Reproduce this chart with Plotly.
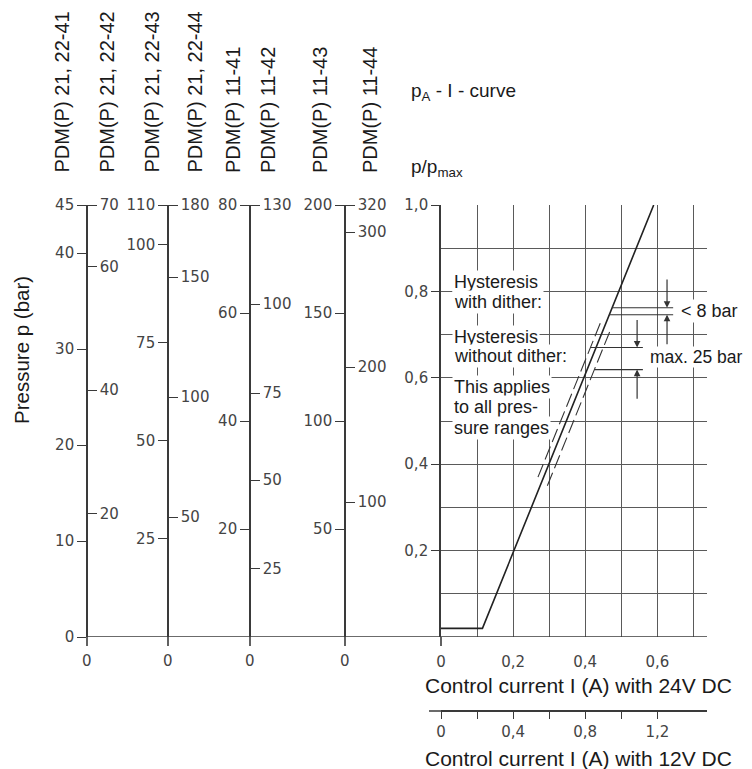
import numpy as np
import plotly.graph_objects as go

# ---------------- data ----------------
scale_names = ["PDM(P) 21, 22-41", "PDM(P) 21, 22-42", "PDM(P) 21, 22-43", "PDM(P) 21, 22-44",
               "PDM(P) 11-41", "PDM(P) 11-42", "PDM(P) 11-43", "PDM(P) 11-44"]
scale_max = [45, 70, 110, 180, 80, 130, 200, 320]
scale_tickvals = [[0, 10, 20, 30, 40, 45], [20, 40, 60, 70], [25, 50, 75, 100, 110], [50, 100, 150, 180],
                  [20, 40, 60, 80], [20.5, 47.2, 73.4, 100.2, 130], [50, 100, 150, 200], [100, 200, 300, 320]]
scale_ticktext = [["0", "10", "20", "30", "40", "45"], ["20", "40", "60", "70"], ["25", "50", "75", "100", "110"],
                  ["50", "100", "150", "180"], ["20", "40", "60", "80"], ["25", "50", "75", "100", "130"],
                  ["50", "100", "150", "200"], ["100", "200", "300", "320"]]

ratio_ticks = [0.2, 0.4, 0.6, 0.8, 1.0]
ratio_ticktext = ["0,2", "0,4", "0,6", "0,8", "1,0"]
ratio_minor = [0.1, 0.3, 0.5, 0.7, 0.9]
i24_ticks = [0, 0.2, 0.4, 0.6]
i24_ticktext = ["0", "0,2", "0,4", "0,6"]
i24_minor = [0.1, 0.3, 0.5, 0.7]
i12_ticks = [0, 0.2, 0.4, 0.6, 0.8, 1.0, 1.2]
i12_ticktext = ["0", "", "0,4", "", "0,8", "", "1,2"]

# p/pmax - I curve (24 V)
curve_current = [0.0, 0.115, 0.59]
curve_ratio = [0.02, 0.02, 1.0]
# hysteresis band (without dither), dashed
band_hi_current = [0.269, 0.446]
band_hi_ratio = [0.37, 0.735]
band_lo_current = [0.295, 0.472]
band_lo_ratio = [0.35, 0.715]
# hysteresis levels
dither_levels = [0.762, 0.746]
nodither_levels = [0.67, 0.619]
dither_end = 0.644
nodither_end = 0.56

# ---------------- geometry (layout) ----------------
OFF = 8                      # page body margin
FW, FH = 752 - OFF, 769 - OFF
L, R, T, B = 50, 707, 205, 711   # reference pixel frame of the plot area
def rx(p): return p - OFF
W, H = R - L, B - T
def px_x(p): return (p - L) / W
def px_y(p): return (B - p) / H
y_dom = [px_y(637), 1.0]
PX_PER_A = 360.5
axis_px = [87, 87, 168, 168, 250, 250, 345, 345]
label_px = [62, 107, 152, 195, 233, 268, 320, 370]

AX = "#3a3a3a"
GRID = "#5a5a5a"
TXT = "#1a1a1a"
TICKFONT = dict(family="DejaVu Sans", size=15, color="#444444")
BIGFONT = "Liberation Sans, Arial, sans-serif"

fig = go.Figure()

fig.add_trace(go.Scatter(x=curve_current, y=curve_ratio, mode="lines",
                         line=dict(color="#222222", width=1.6), showlegend=False, hoverinfo="skip"))
for xs, ys in [(band_hi_current, band_hi_ratio), (band_lo_current, band_lo_ratio)]:
    fig.add_trace(go.Scatter(x=xs, y=ys, mode="lines",
                             line=dict(color="#333333", width=1.1, dash="14px,5px"),
                             showlegend=False, hoverinfo="skip"))
for lv in dither_levels:
    x0 = float(np.interp(lv, curve_ratio, curve_current))
    fig.add_trace(go.Scatter(x=[x0, dither_end], y=[lv, lv], mode="lines",
                             line=dict(color="#333333", width=1.1), showlegend=False, hoverinfo="skip"))
x_hi = float(np.interp(nodither_levels[0], band_hi_ratio, band_hi_current))
x_lo = float(np.interp(nodither_levels[1], band_lo_ratio, band_lo_current))
for x0, lv in [(x_hi, nodither_levels[0]), (x_lo, nodither_levels[1])]:
    fig.add_trace(go.Scatter(x=[x0, nodither_end], y=[lv, lv], mode="lines",
                             line=dict(color="#333333", width=1.1), showlegend=False, hoverinfo="skip"))

for i in range(len(scale_max)):
    fig.add_trace(go.Scatter(x=[None], y=[None], yaxis=f"y{i+2}", showlegend=False, hoverinfo="skip"))
fig.add_trace(go.Scatter(x=[None], y=[None], xaxis="x2", showlegend=False, hoverinfo="skip"))

layout = dict(
    width=FW, height=FH,
    margin=dict(l=rx(L), r=752 - R, t=rx(T), b=769 - B),
    paper_bgcolor="white", plot_bgcolor="white",
    showlegend=False,
    xaxis=dict(domain=[px_x(441), 1], range=[0, (R - 441) / PX_PER_A], anchor="y",
               tickvals=i24_ticks, ticktext=i24_ticktext, ticks="outside", ticklen=11,
               tickcolor="rgba(0,0,0,0)", tickfont=TICKFONT,
               showgrid=True, gridcolor=GRID, gridwidth=1.2, zeroline=False, showline=False,
               minor=dict(tickvals=i24_minor, showgrid=True, gridcolor=GRID, gridwidth=1.2, ticks=""),
               fixedrange=True),
    xaxis2=dict(range=[0, (R - 441) / (PX_PER_A / 2)],
                anchor="free", position=0, overlaying="x",
                tickvals=i12_ticks, ticktext=i12_ticktext, ticks="outside", ticklen=7, tickwidth=1.3,
                tickcolor=AX, tickfont=TICKFONT, showline=True, linecolor=AX, linewidth=1.5,
                showgrid=False, zeroline=False, fixedrange=True),
    yaxis=dict(domain=y_dom, range=[0, 1], anchor="x",
               tickvals=ratio_ticks, ticktext=ratio_ticktext, ticks="outside", ticklen=8, tickwidth=1.3,
               tickcolor=AX, tickfont=TICKFONT, showline=True, linecolor=AX, linewidth=1.6,
               showgrid=True, gridcolor=GRID, gridwidth=1.2, zeroline=False,
               minor=dict(tickvals=ratio_minor, showgrid=True, gridcolor=GRID, gridwidth=1.2, ticks=""),
               fixedrange=True),
)
for i in range(len(scale_max)):
    layout[f"yaxis{i+2}"] = dict(
        overlaying="y", anchor="free", position=px_x(axis_px[i]),
        side="left" if i % 2 == 0 else "right",
        domain=y_dom, range=[0, scale_max[i]],
        tickvals=scale_tickvals[i], ticktext=scale_ticktext[i],
        ticks="outside", ticklen=9, tickwidth=1.4, tickcolor=AX, tickfont=TICKFONT,
        showline=True, linecolor=AX, linewidth=1.6, showgrid=False, zeroline=False, fixedrange=True)
fig.update_layout(**layout)

shapes = []
# baseline
shapes.append(dict(type="line", xref="paper", yref="y", x0=px_x(87), x1=1, y0=0, y1=0,
                   line=dict(color=AX, width=1.6)))
# 12 V axis line extends a little to the left of zero
shapes.append(dict(type="line", xref="paper", yref="paper", x0=px_x(429), x1=px_x(442), y0=0, y1=0,
                   line=dict(color=AX, width=1.5)))
# stubs below baseline
for xp in [87, 168, 250, 345, 441]:
    shapes.append(dict(type="line", xref="paper", yref="paper", x0=px_x(xp), x1=px_x(xp),
                       y0=px_y(646), y1=px_y(637), line=dict(color=AX, width=1.6)))
fig.update_layout(shapes=shapes)

ann = []
for xp in [87, 168, 250, 345]:
    ann.append(dict(x=px_x(xp), y=px_y(661), xref="paper", yref="paper", text="0", showarrow=False,
                    xanchor="center", yanchor="middle", font=TICKFONT))
for name, xp in zip(scale_names, label_px):
    ann.append(dict(x=px_x(xp), y=px_y(175), xref="paper", yref="paper", text=name, showarrow=False,
                    textangle=-90, xanchor="center", yanchor="bottom",
                    font=dict(family=BIGFONT, size=20, color=TXT)))
ann.append(dict(x=px_x(21), y=px_y(350), xref="paper", yref="paper", text="Pressure p (bar)",
                showarrow=False, textangle=-90, xanchor="center", yanchor="middle",
                font=dict(family=BIGFONT, size=20.5, color=TXT)))
ann.append(dict(x=px_x(578), y=px_y(685), xref="paper", yref="paper",
                text="Control current I (A) with 24V DC", showarrow=False,
                xanchor="center", yanchor="middle", font=dict(family=BIGFONT, size=21, color=TXT)))
ann.append(dict(x=px_x(578), y=px_y(758), xref="paper", yref="paper",
                text="Control current I (A) with 12V DC", showarrow=False,
                xanchor="center", yanchor="middle", font=dict(family=BIGFONT, size=21, color=TXT)))
ann.append(dict(x=px_x(409), y=px_y(92), xref="paper", yref="paper",
                text="p<sub>A</sub> - I - curve", showarrow=False,
                xanchor="left", yanchor="middle", font=dict(family=BIGFONT, size=19, color=TXT)))
ann.append(dict(x=px_x(409), y=px_y(168), xref="paper", yref="paper",
                text="p/p<sub>max</sub>", showarrow=False,
                xanchor="left", yanchor="middle", font=dict(family=BIGFONT, size=19, color=TXT)))
for txt, yp in [("Hysteresis", 282), ("with dither:", 302), ("Hysteresis", 337), ("without dither:", 356),
                ("This applies", 387), ("to all pres-", 407), ("sure ranges", 428)]:
    ann.append(dict(x=px_x(452), y=px_y(yp), xref="paper", yref="paper", text=txt, showarrow=False,
                    xanchor="left", yanchor="middle", bgcolor="white", borderpad=1,
                    font=dict(family=BIGFONT, size=18, color=TXT)))
ann.append(dict(x=px_x(679), y=px_y(311), xref="paper", yref="paper", text="< 8 bar", showarrow=False,
                xanchor="left", yanchor="middle", bgcolor="white", borderpad=1,
                font=dict(family=BIGFONT, size=18, color=TXT)))
ann.append(dict(x=px_x(649), y=px_y(357), xref="paper", yref="paper", text="max. 25 bar", showarrow=False,
                xanchor="left", yanchor="middle", bgcolor="white", borderpad=0,
                font=dict(family=BIGFONT, size=17.5, color=TXT)))
for xa, head, tail in [(0.627, dither_levels[0], 0.831), (0.627, dither_levels[1], 0.674),
                       (0.544, nodither_levels[0], 0.737), (0.544, nodither_levels[1], 0.548)]:
    ann.append(dict(x=xa, y=head, ax=xa, ay=tail, xref="x", yref="y", axref="x", ayref="y",
                    text="", showarrow=True, arrowhead=2, arrowsize=1.1, arrowwidth=1.2,
                    arrowcolor="#333333", standoff=0))
fig.update_layout(annotations=ann)

fig.write_html("out.html")
